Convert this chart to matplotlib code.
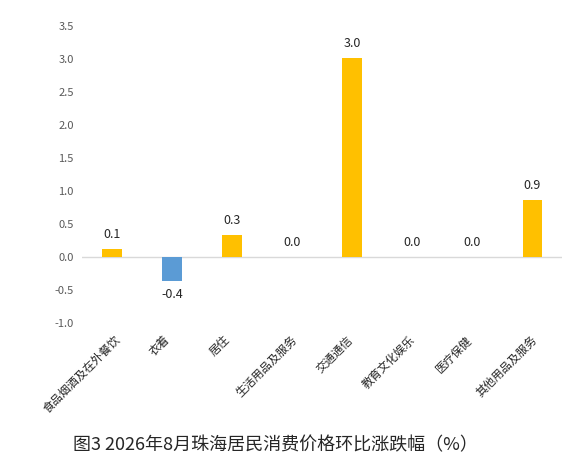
import matplotlib
matplotlib.use("Agg")
import matplotlib.pyplot as plt
from matplotlib.transforms import ScaledTranslation

plt.rcParams['font.family'] = ['Noto Sans CJK SC', 'DejaVu Sans']
plt.rcParams['axes.unicode_minus'] = False

categories = ["食品烟酒及在外餐饮", "衣着", "居住", "生活用品及服务",
              "交通通信", "教育文化娱乐", "医疗保健", "其他用品及服务"]
values = [0.12, -0.36, 0.34, 0.0, 3.02, 0.0, 0.0, 0.87]
yticks = [-1.0, -0.5, 0.0, 0.5, 1.0, 1.5, 2.0, 2.5, 3.0, 3.5]
title = "图3 2026年8月珠海居民消费价格环比涨跌幅（%）"

pos_color = "#FFC000"
neg_color = "#5B9BD5"

fig = plt.figure(figsize=(5.65, 4.58), dpi=100)
ax = fig.add_axes([0.145, 0.295, 0.85, 0.648])

x = list(range(len(categories)))
colors = [pos_color if v >= 0 else neg_color for v in values]
ax.bar(x, values, width=0.32, color=colors, zorder=2)

for xi, v in zip(x, values):
    if v >= 0:
        ax.annotate(f"{v:.1f}", (xi, v), xytext=(0, 5.5), textcoords="offset points",
                    ha="center", va="bottom", fontsize=9, color="#262626")
    else:
        ax.annotate(f"{v:.1f}", (xi, v), xytext=(0, -5), textcoords="offset points",
                    ha="center", va="top", fontsize=9, color="#262626")

ax.axhline(0, color="#D9D9D9", linewidth=1.0, zorder=1)
ax.set_xlim(-0.5, len(categories) - 0.5)
ax.set_ylim(-1.0, 3.5)
ax.set_yticks(yticks)
ax.set_yticklabels([f"{t:.1f}" for t in yticks], fontsize=8, color="#595959")
ax.set_xticks(x)
ax.set_xticklabels(categories, rotation=45, ha="right", va="top",
                   rotation_mode="default", fontsize=8.3, color="#262626")
ax.tick_params(axis="both", length=0)
ax.tick_params(axis="y", pad=6)
ax.tick_params(axis="x", pad=7.5)
# longer rotated labels sit slightly further right (Excel-like placement)
for lbl, name in zip(ax.get_xticklabels(), categories):
    dx_pt = 1.1 * (len(name) - 2)
    lbl.set_transform(lbl.get_transform() +
                      ScaledTranslation(dx_pt / 72, 0, fig.dpi_scale_trans))
for s in ax.spines.values():
    s.set_visible(False)

fig.text(0.487, 0.028, title, ha="center", va="center", fontsize=13, color="#262626")

fig.savefig("out.png", dpi=100, facecolor="white")
